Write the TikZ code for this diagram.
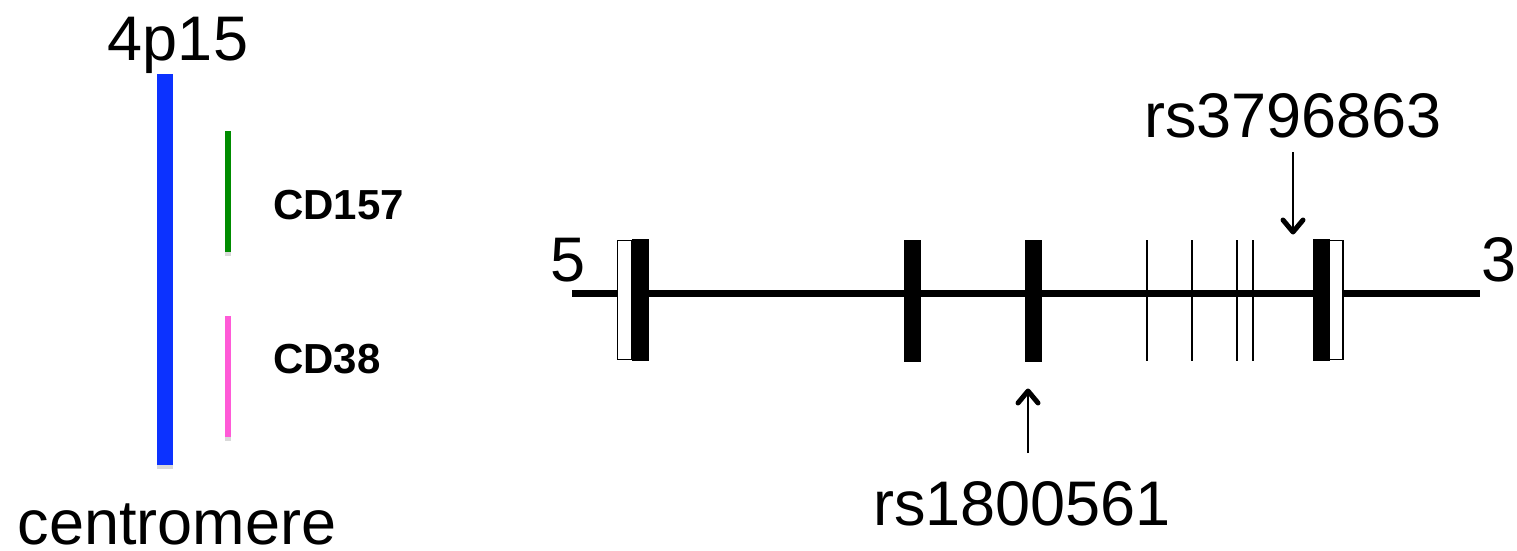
\documentclass[tikz,border=0pt]{standalone}
\usepackage{fontspec}
\setmainfont{Liberation Sans}
\definecolor{chrblue}{RGB}{12,50,255}
\definecolor{cdgreen}{RGB}{0,140,0}
\definecolor{cdpink}{RGB}{255,90,215}
\tikzset{
  big/.style={font=\fontsize{63}{63}\selectfont, inner sep=0pt, anchor=base},
  genelab/.style={font=\bfseries\fontsize{42}{42}\selectfont, inner sep=0pt, anchor=base west},
  exonblack/.style={draw=black, fill=black, line width=0.6pt, minimum width=16pt, minimum height=121pt, inner sep=0pt},
  exonwhite/.style={draw=black, fill=white, line width=1.8pt, minimum width=14pt, minimum height=119pt, inner sep=0pt},
  intronmark/.style={line width=2pt},
  snpshaft/.style={line width=2pt},
  snphead/.style={line width=5pt, line join=round, line cap=round},
  shadow/.style={fill=gray!30, draw=none}
}
\begin{document}
\begin{tikzpicture}[x=1pt,y=-1pt]
\useasboundingbox (0,0) rectangle (1517,551);
% chromosome part
\node[big] (band) at (178,60) {4p15};
\node[big, text depth=0pt] (cen) at (177,544) {centromere};
\fill[shadow] (157,465) rectangle (173,469);
\fill[chrblue] (157,74) rectangle (173,465);
\fill[shadow] (224.5,252) rectangle (230.5,256);
\fill[cdgreen] (224.5,131) rectangle (230.5,252);
\fill[shadow] (224.5,437) rectangle (230.5,441);
\fill[cdpink] (224.5,316) rectangle (230.5,437);
\node[genelab] (cd157) at (273,219) {CD157};
\node[genelab] (cd38) at (273,373) {CD38};
% gene structure
\coordinate (g5) at (572,293.5);
\coordinate (g3) at (1480,293.5);
\draw[line width=6.5pt] (g5) -- (g3);
\node[big] (five) at (568,281) {5};
\node[big] (three) at (1499,281) {3};
\node[exonwhite] (e1w) at (624.5,300) {};
\node[exonblack] (e1) at (640.5,300) {};
\node[exonblack] (e2) at (912.5,301) {};
\node[exonblack] (e3) at (1033.5,301) {};
\foreach \x/\n in {1147/a,1192/b,1237/c,1253/d}{
  \coordinate (t\n) at (\x,240);
  \coordinate (b\n) at (\x,361);
  \draw[intronmark] (t\n) -- (b\n);
}
\node[exonblack] (e4) at (1321,300) {};
\node[exonwhite] (e4w) at (1336,300) {};
% SNPs
\node[big] (rsA) at (1293,137) {rs3796863};
\node[big] (rsB) at (1022,525) {rs1800561};
\coordinate (aTail) at (1293,152);
\coordinate (aTip) at (1293,232);
\draw[snpshaft] (aTail) -- (aTip);
\draw[snphead] ([shift={(-10,-12)}]aTip) -- (aTip) -- ([shift={(10,-12)}]aTip);
\coordinate (bTail) at (1028,453);
\coordinate (bTip) at (1028,391);
\draw[snpshaft] (bTail) -- (bTip);
\draw[snphead] ([shift={(-10,12)}]bTip) -- (bTip) -- ([shift={(10,12)}]bTip);
\end{tikzpicture}
\end{document}
